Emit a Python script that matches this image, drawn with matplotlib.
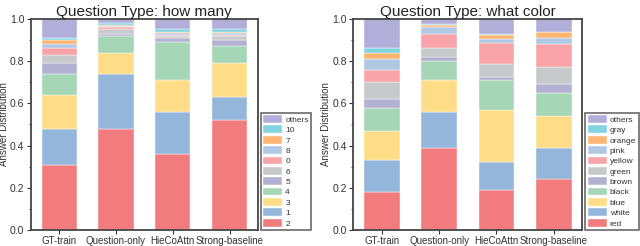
import numpy as np
import matplotlib.pyplot as plt

plt.rcParams['font.family'] = ['Liberation Sans', 'DejaVu Sans']

models = ["GT-train", "Question-only", "HieCoAttn", "Strong-baseline"]

# how many: stacked bottom -> top
count_labels = ["2", "1", "3", "4", "5", "6", "0", "8", "7", "10", "others"]
count_vals = {
    "2":      [0.31, 0.48, 0.36, 0.52],
    "1":      [0.17, 0.26, 0.20, 0.11],
    "3":      [0.16, 0.10, 0.15, 0.16],
    "4":      [0.10, 0.08, 0.18, 0.08],
    "5":      [0.05, 0.01, 0.02, 0.03],
    "6":      [0.04, 0.02, 0.01, 0.02],
    "0":      [0.03, 0.01, 0.005, 0.005],
    "8":      [0.02, 0.005, 0.01, 0.01],
    "7":      [0.02, 0.005, 0.005, 0.005],
    "10":     [0.01, 0.01, 0.01, 0.01],
    "others": [0.09, 0.02, 0.05, 0.05],
}

# what color: stacked bottom -> top
color_labels = ["red", "white", "blue", "black", "brown", "green", "yellow",
                "pink", "orange", "gray", "others"]
color_vals = {
    "red":    [0.18, 0.39, 0.19, 0.24],
    "white":  [0.15, 0.17, 0.13, 0.15],
    "blue":   [0.14, 0.15, 0.25, 0.15],
    "black":  [0.11, 0.09, 0.14, 0.11],
    "brown":  [0.04, 0.02, 0.015, 0.04],
    "green":  [0.08, 0.04, 0.06, 0.08],
    "yellow": [0.06, 0.07, 0.10, 0.11],
    "pink":   [0.05, 0.03, 0.02, 0.03],
    "orange": [0.03, 0.01, 0.02, 0.03],
    "gray":   [0.02, 0.005, 0.005, 0.0],
    "others": [0.14, 0.025, 0.07, 0.06],
}

palette = ["#F27B7E", "#94B6DB", "#FFDD88", "#A5D6B5", "#B3B1D1", "#C8C9CA",
           "#F8A3A7", "#AFC9E5", "#FFB673", "#7FD4E0", "#B2AEDA"]

fig = plt.figure(figsize=(6.4, 2.46), dpi=100)
ax1 = fig.add_axes([0.048, 0.065, 0.355, 0.858])
ax2 = fig.add_axes([0.552, 0.065, 0.358, 0.858])


def draw(ax, labels, vals, title):
    x = np.arange(len(models))
    bottom = np.zeros(len(models))
    handles = []
    for lab, col in zip(labels, palette):
        v = np.array(vals[lab])
        h = ax.bar(x, v, 0.62, bottom=bottom, color=col, edgecolor="white",
                   linewidth=0.3, label=lab)
        handles.append(h)
        bottom += v
    ax.set_xlim(-0.5, 3.5)
    ax.set_ylim(0, 1.0)
    ax.set_xticks(x)
    ax.set_xticklabels(models, fontsize=7, color="#333333")
    ax.set_yticks(np.arange(0, 1.01, 0.2))
    ax.set_yticklabels(["%.1f" % t for t in np.arange(0, 1.01, 0.2)],
                       fontsize=7.5, color="#333333")
    ax.set_yticks(np.arange(0.1, 1.0, 0.2), minor=True)
    ax.tick_params(axis="both", which="major", direction="out", length=3,
                   width=0.8, color="#333333", pad=1.5)
    ax.tick_params(axis="y", which="minor", direction="out", length=1.5,
                   width=0.6, color="#333333")
    for s in ax.spines.values():
        s.set_linewidth(1.3)
        s.set_color("#444444")
    ax.set_ylabel("Answer Distribution", fontsize=7, color="#333333",
                  labelpad=1)
    ax.set_title(title, fontsize=11, pad=2, color="#222222")
    leg = ax.legend(handles[::-1], labels[::-1], loc="lower left",
                    bbox_to_anchor=(1.012, 0.0), borderaxespad=0,
                    fontsize=6, frameon=True, fancybox=False,
                    handlelength=2.3, handleheight=1.05, labelspacing=0.2,
                    handletextpad=0.35, borderpad=0.3)
    leg.get_frame().set_edgecolor("#444444")
    leg.get_frame().set_linewidth(1.2)
    for t in leg.get_texts():
        t.set_color("#333333")


draw(ax1, count_labels, count_vals, "Question Type: how many")
draw(ax2, color_labels, color_vals, "Question Type: what color")

fig.savefig("out.png", dpi=100)
